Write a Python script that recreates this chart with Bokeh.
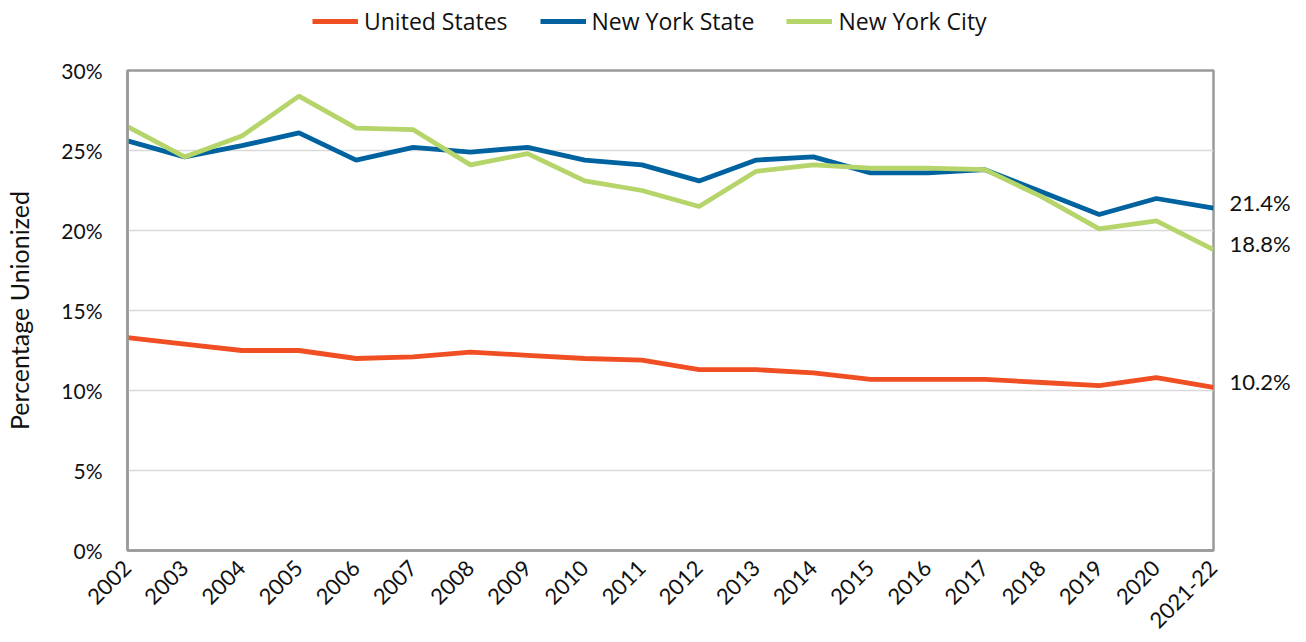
from bokeh.plotting import figure
from bokeh.layouts import column
from bokeh.models import FixedTicker, PrintfTickFormatter, Legend, LegendItem, LinearAxis, Range1d
from bokeh.embed import file_html
from bokeh.resources import INLINE
import math

years = ["2002", "2003", "2004", "2005", "2006", "2007", "2008", "2009", "2010", "2011",
         "2012", "2013", "2014", "2015", "2016", "2017", "2018", "2019", "2020", "2021-22"]
us = [13.3, 12.9, 12.5, 12.5, 12.0, 12.1, 12.4, 12.2, 12.0, 11.9,
      11.3, 11.3, 11.1, 10.7, 10.7, 10.7, 10.5, 10.3, 10.8, 10.2]
nys = [25.6, 24.6, 25.3, 26.1, 24.4, 25.2, 24.9, 25.2, 24.4, 24.1,
       23.1, 24.4, 24.6, 23.6, 23.6, 23.8, 22.4, 21.0, 22.0, 21.4]
nyc = [26.5, 24.6, 25.9, 28.4, 26.4, 26.3, 24.1, 24.8, 23.1, 22.5,
       21.5, 23.7, 24.1, 23.9, 23.9, 23.8, 22.1, 20.1, 20.6, 18.8]
series_names = ["United States", "New York State", "New York City"]
y_ticks = [0, 5, 10, 15, 20, 25, 30]

colors = ["#F04E23", "#0063A0", "#B5D56A"]
xs = list(range(len(years)))
all_series = [us, nys, nyc]

W = 1300
LH = 44          # legend strip height
H = 638 - LH     # main figure height

# ---- legend strip (its own small figure) ----
lg = figure(width=W, height=LH, output_backend="svg", toolbar_location=None,
            x_axis_type=None, y_axis_type=None, x_range=(-10, -9), y_range=(0, 1),
            min_border=0)
lg.outline_line_color = None
lg.xgrid.grid_line_color = None
lg.ygrid.grid_line_color = None
items = []
for name, vals, c in zip(series_names, all_series, colors):
    r = lg.line(xs, vals, line_color=c, line_width=5)
    items.append(LegendItem(label=name, renderers=[r]))
legend = Legend(items=items, orientation="horizontal", location=(185, 7),
                label_text_font="Open Sans", label_text_font_size="23px",
                label_text_color="#111111",
                glyph_width=46, glyph_height=14, label_standoff=6, spacing=32,
                border_line_color=None, background_fill_alpha=0, padding=0, margin=0)
lg.add_layout(legend, "center")

# ---- main chart ----
p = figure(width=W, height=H, output_backend="svg", toolbar_location=None,
           x_range=(0, len(years) - 1), y_range=(0, 30),
           min_border_left=127, min_border_right=W - 1213, min_border_top=70 - LH,
           min_border_bottom=638 - 551)

p.outline_line_color = "#9a9a9a"
p.outline_line_width = 2.5
p.xgrid.grid_line_color = None
p.ygrid.grid_line_color = "#d9d9d9"
p.ygrid.grid_line_width = 1.5

p.xaxis.ticker = FixedTicker(ticks=xs)
p.xaxis.major_label_overrides = {i: y for i, y in enumerate(years)}
p.xaxis.major_label_orientation = math.pi / 4
p.yaxis.ticker = FixedTicker(ticks=y_ticks)
p.yaxis.formatter = PrintfTickFormatter(format="%d%%")
yax = p.yaxis[0]
xax = p.xaxis[0]

# end-of-line value labels via a right axis whose ticks are the last values
shift = 6 * 30 / 481.0
p.extra_y_ranges = {"lab": Range1d(start=-shift, end=30 - shift)}
last_vals = [nys[-1], nyc[-1], us[-1]]
rax = LinearAxis(y_range_name="lab", ticker=FixedTicker(ticks=last_vals),
                 formatter=PrintfTickFormatter(format="%.1f%%"))
p.add_layout(rax, "right")

for ax in (xax, yax, rax):
    ax.axis_line_color = "#9a9a9a"
    ax.axis_line_width = 2.5
    ax.major_tick_line_color = None
    ax.minor_tick_line_color = None
    ax.major_label_text_font = "Lato"
    ax.major_label_text_color = "#111111"
rax.axis_line_color = None
rax.major_label_text_font_size = "22px"
rax.major_label_standoff = 10
xax.major_label_text_font_size = "22px"
yax.major_label_text_font_size = "21px"
yax.major_label_standoff = 19
xax.major_label_standoff = 8
yax.axis_label = "Percentage Unionized"
yax.axis_label_text_font = "Lato"
yax.axis_label_text_font_style = "normal"
yax.axis_label_text_font_size = "25px"
yax.axis_label_text_color = "#111111"
yax.axis_label_standoff = 24

for vals, c in zip(all_series, colors):
    p.line(xs, vals, line_color=c, line_width=4.8)

open("out.html", "w").write(file_html(column(lg, p, spacing=0), INLINE))
